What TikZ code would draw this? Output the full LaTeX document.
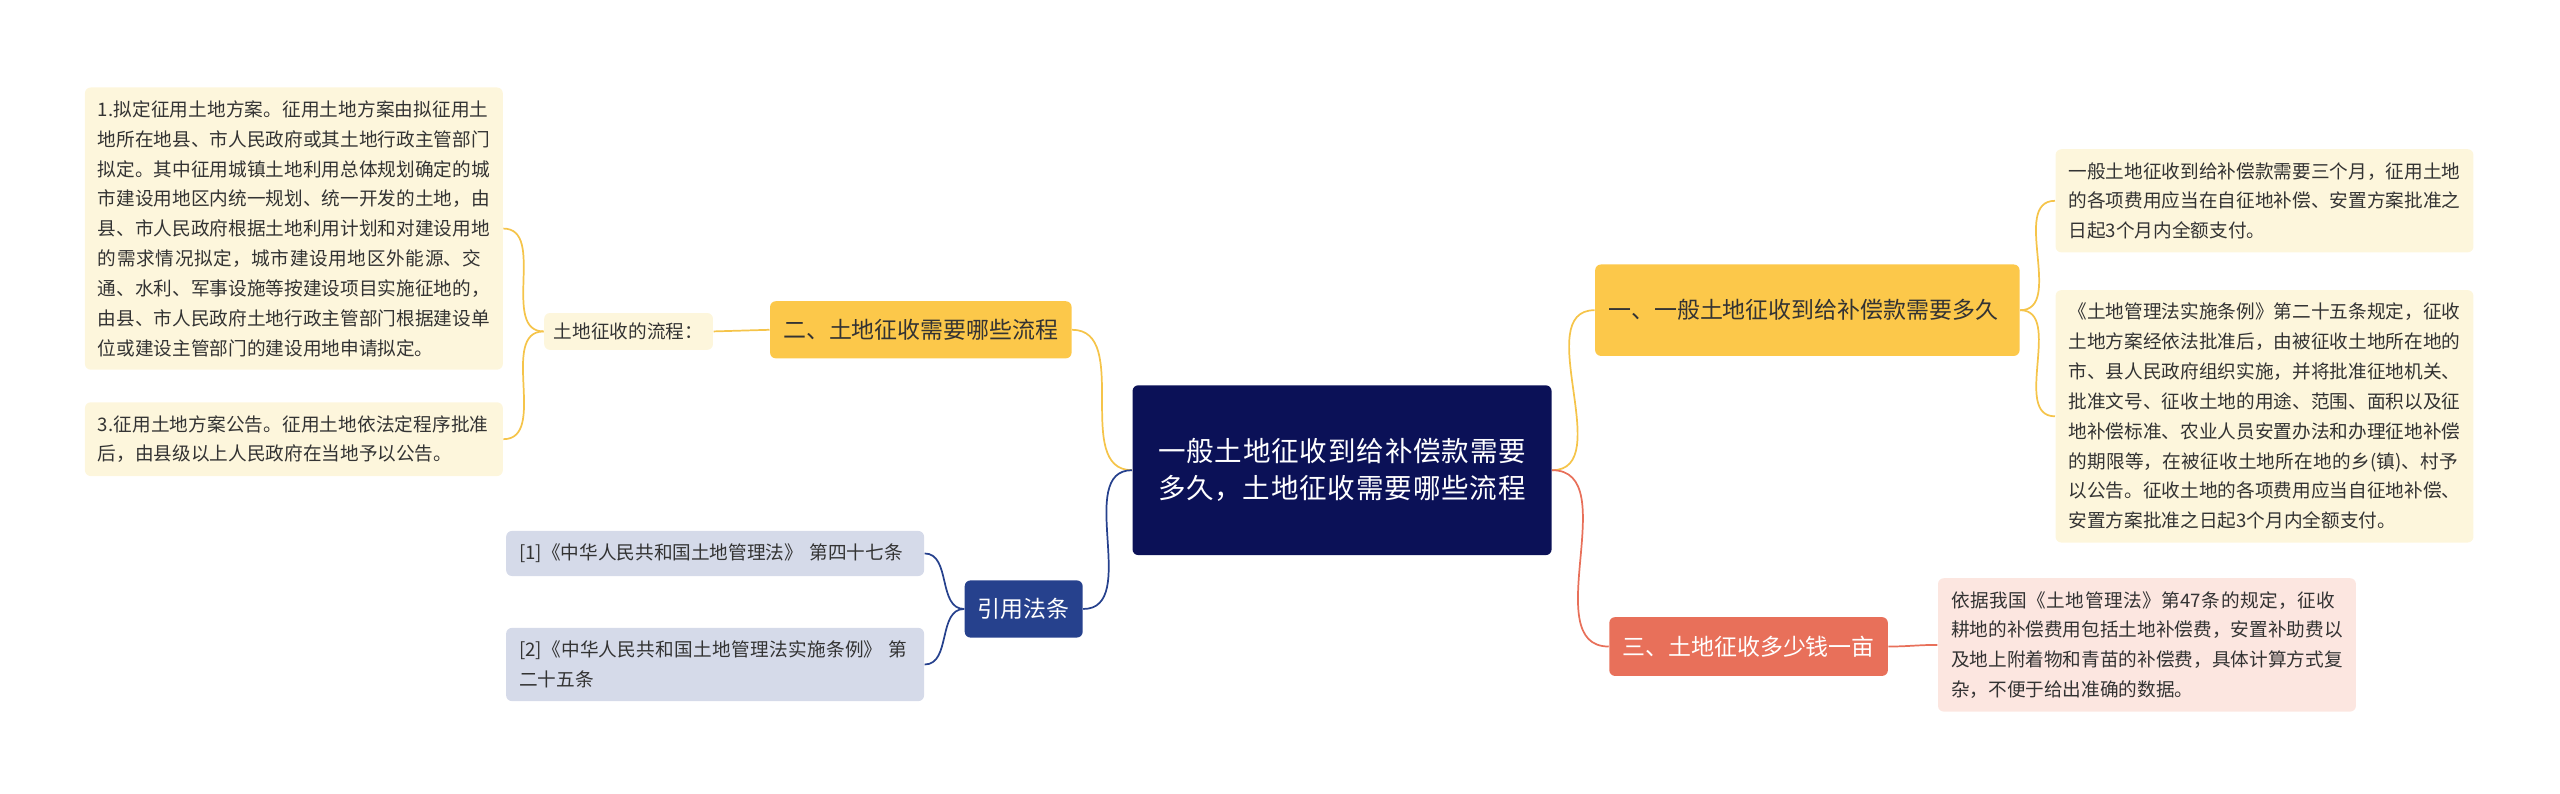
\documentclass[tikz,border=0pt]{standalone}
\usepackage{fontspec}
\setmainfont{Noto Sans CJK SC}
\XeTeXlinebreaklocale "zh"
\XeTeXlinebreakskip=0pt plus 1pt
\usetikzlibrary{shapes,arrows,calc}
\definecolor{navy}{HTML}{0B1157}
\definecolor{gold}{HTML}{FCC84A}
\definecolor{goldline}{HTML}{F5C44A}
\definecolor{paleyel}{HTML}{FDF6DC}
\definecolor{coral}{HTML}{E8705A}
\definecolor{palered}{HTML}{FCE6E0}
\definecolor{citeblue}{HTML}{26418D}
\definecolor{palecite}{HTML}{D5DAE9}
\definecolor{txt}{HTML}{333333}
\tikzstyle{root} = [rectangle, fill=navy, text=white, rounded corners=2pt, text width=4.9cm,
    align=center, minimum height=2.08cm, font=\fontsize{9.6}{13}\selectfont]
\tikzstyle{branch} = [rectangle, fill=gold, text=txt, rounded corners=2pt, align=left,
    inner sep=0.16cm, font=\fontsize{8}{11}\selectfont]
\tikzstyle{leaf} = [rectangle, fill=paleyel, text=txt, rounded corners=2pt, text width=4.8cm,
    align=left, inner sep=0.16cm, font=\fontsize{6.5}{10.4}\selectfont]
\tikzstyle{tag} = [rectangle, fill=paleyel, text=txt, rounded corners=2pt,
    inner sep=0.12cm, font=\fontsize{6.5}{10.4}\selectfont]
\tikzstyle{line} = [draw, line width=0.6pt]

\begin{document}
\begin{tikzpicture}[x=0.02cm, y=-0.02cm]
    \useasboundingbox (0,0) rectangle (1568,486);
    % Place nodes
    \node [root] (main) at (822,288) {一般土地征收到给补偿款需要多久，土地征收需要哪些流程};
    \node [branch, text width=4.88cm, minimum height=1.12cm] (howlong) at (1107,190) {一、一般土地征收到给补偿款需要多久};
    \node [leaf] (three) at (1387,123) {一般土地征收到给补偿款需要三个月，征用土地的各项费用应当在自征地补偿、安置方案批准之日起3个月内全额支付。};
    \node [leaf] (rule) at (1387,255) {《土地管理法实施条例》第二十五条规定，征收土地方案经依法批准后，由被征收土地所在地的市、县人民政府组织实施，并将批准征地机关、批准文号、征收土地的用途、范围、面积以及征地补偿标准、农业人员安置办法和办理征地补偿的期限等，在被征收土地所在地的乡(镇)、村予以公告。征收土地的各项费用应当自征地补偿、安置方案批准之日起3个月内全额支付。};
    \node [branch, fill=coral, text=white, minimum height=0.72cm] (price) at (1071,396) {三、土地征收多少钱一亩};
    \node [leaf, fill=palered] (pricetext) at (1315,395) {依据我国《土地管理法》第47条的规定，征收耕地的补偿费用包括土地补偿费，安置补助费以及地上附着物和青苗的补偿费，具体计算方式复杂，不便于给出准确的数据。};
    \node [branch, minimum height=0.7cm] (steps) at (564,202) {二、土地征收需要哪些流程};
    \node [tag] (flow) at (385,203) {土地征收的流程：};
    \node [leaf] (plan) at (180,140) {1.拟定征用土地方案。征用土地方案由拟征用土地所在地县、市人民政府或其土地行政主管部门拟定。其中征用城镇土地利用总体规划确定的城市建设用地区内统一规划、统一开发的土地，由县、市人民政府根据土地利用计划和对建设用地的需求情况拟定，城市建设用地区外能源、交通、水利、军事设施等按建设项目实施征地的，由县、市人民政府土地行政主管部门根据建设单位或建设主管部门的建设用地申请拟定。};
    \node [leaf] (notice) at (180,269) {3.征用土地方案公告。征用土地依法定程序批准后，由县级以上人民政府在当地予以公告。};
    \node [branch, fill=citeblue, text=white, minimum height=0.7cm] (cite) at (627,373) {引用法条};
    \node [leaf, fill=palecite] (lawa) at (438,339) {[1]《中华人民共和国土地管理法》 第四十七条};
    \node [leaf, fill=palecite] (lawb) at (438,407) {[2]《中华人民共和国土地管理法实施条例》 第二十五条};
    % Draw edges
    \path [line, goldline] (main.east) to[out=0, in=180] (howlong.west);
    \path [line, coral] (main.east) to[out=0, in=180] (price.west);
    \path [line, goldline] (main.west) to[out=180, in=0] (steps.east);
    \path [line, citeblue] (main.west) to[out=180, in=0] (cite.east);
    \path [line, goldline] (howlong.east) to[out=0, in=180] (three.west);
    \path [line, goldline] (howlong.east) to[out=0, in=180] (rule.west);
    \path [line, coral] (price.east) to[out=0, in=180] (pricetext.west);
    \path [line, goldline] (steps.west) -- (flow.east);
    \path [line, goldline] (flow.west) to[out=180, in=0] (plan.east);
    \path [line, goldline] (flow.west) to[out=180, in=0] (notice.east);
    \path [line, citeblue] (cite.west) to[out=180, in=0] (lawa.east);
    \path [line, citeblue] (cite.west) to[out=180, in=0] (lawb.east);
\end{tikzpicture}
\end{document}
